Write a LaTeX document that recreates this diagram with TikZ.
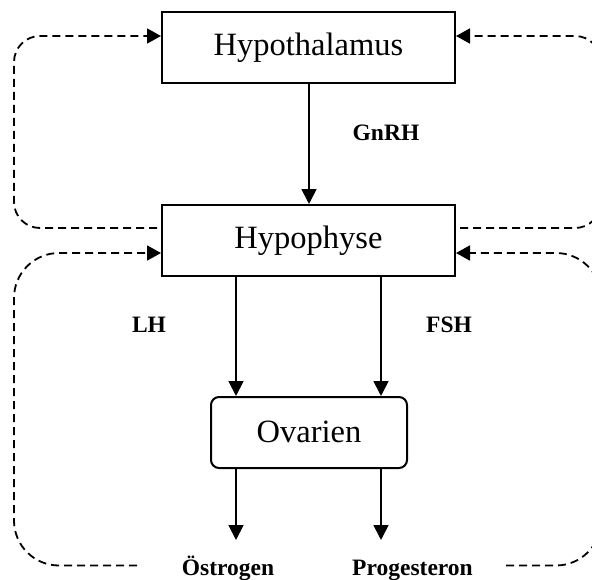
\documentclass[tikz,border=0pt]{standalone}
\usepackage{fontspec}
\setmainfont{Liberation Serif}
\usetikzlibrary{arrows.meta}
\begin{document}
\begin{tikzpicture}[x=1pt,y=-1pt,
  box/.style={draw,line width=2pt,inner sep=0pt,minimum width=293pt,minimum height=71pt,font=\fontsize{32.5}{38}\selectfont},
  ovbox/.style={draw,line width=2pt,inner sep=0pt,rounded corners=8pt,minimum width=196pt,minimum height=71pt,font=\fontsize{32.5}{38}\selectfont},
  lbl/.style={inner sep=0pt,font=\fontsize{23.5}{27}\selectfont\bfseries},
  arr/.style={line width=1.8pt,-{Triangle[length=15pt,width=15pt]}},
  fb/.style={line width=1.8pt,dash pattern=on 8pt off 5pt,-{Triangle[length=14pt,width=15pt]}}]
\useasboundingbox (0,0) rectangle (592,579);
\clip (0,0) rectangle (592,579);
\node[box] (hth) at (308.5,47.5) {\raisebox{3pt}{Hypothalamus}};
\node[box] (hph) at (308.5,240.5) {\raisebox{3pt}{Hypophyse}};
\node[ovbox] (ov) at (309,432.5) {\raisebox{2pt}{Ovarien}};
\node[lbl] (gnrh) at (386,133) {GnRH};
\node[lbl] (lh) at (149,325) {LH};
\node[lbl] (fsh) at (449,325) {FSH};
\node[lbl,anchor=base] (oes) at (228,575) {Östrogen};
\node[lbl,anchor=base] (prog) at (412.5,575) {Progesteron};
\coordinate (cM) at (309,0);
\coordinate (cL) at (236,0);
\coordinate (cR) at (381,0);
\coordinate (eL) at (236,540);
\coordinate (eR) at (381,540);
\draw[arr] (hth.south -| cM) -- (hph.north -| cM);
\draw[arr] (hph.south -| cL) -- (ov.north -| cL);
\draw[arr] (hph.south -| cR) -- (ov.north -| cR);
\draw[arr] (ov.south -| cL) -- (eL);
\draw[arr] (ov.south -| cR) -- (eR);
% feedback loops
\coordinate (s1) at (157,228);
\coordinate (s2) at (460,228);
\coordinate (s3) at (137,565.5);
\coordinate (s4) at (506,565.5);
\coordinate (t1) at (0,36);
\coordinate (t3) at (0,253);
\draw[fb,rounded corners=26pt] (s1) -- (14,228) -- (14,36) -- (hth.west |- t1);
\draw[fb,rounded corners=26pt] (s2) -- (601,228) -- (601,36) -- (hth.east |- t1);
\draw[fb,rounded corners=45pt] (s3) -- (14,565.5) -- (14,253) -- (hph.west |- t3);
\draw[fb,rounded corners=45pt] (s4) -- (601,565.5) -- (601,253) -- (hph.east |- t3);
\end{tikzpicture}
\end{document}
